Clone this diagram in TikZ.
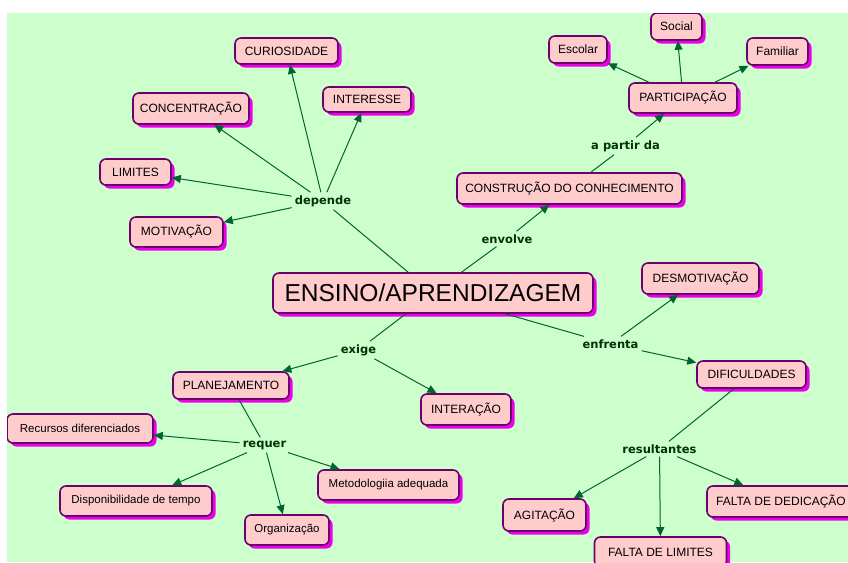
\documentclass[tikz,border=0pt]{standalone}
\usepackage{fontspec}
\setmainfont{Liberation Sans}
\newfontfamily\lblfont{DejaVu Sans}
\usetikzlibrary{arrows.meta,shadows}
\definecolor{bggreen}{RGB}{204,255,204}
\definecolor{boxfill}{RGB}{255,204,204}
\definecolor{boxline}{RGB}{110,0,110}
\definecolor{shadowmag}{RGB}{235,0,235}
\definecolor{linkgreen}{RGB}{0,100,50}
\definecolor{lbltext}{RGB}{0,50,10}
\tikzset{
  concept/.style={draw=boxline, line width=1.6pt, fill=boxfill, rounded corners=6pt,
    inner sep=0pt, align=center, font=\fontsize{12}{14}\selectfont,
    drop shadow={shadow xshift=3.5pt, shadow yshift=-3.5pt, fill=shadowmag, opacity=1}},
  linklbl/.style={inner sep=3pt, text=lbltext, font=\lblfont\bfseries\fontsize{11.5}{13}\selectfont},
  conn/.style={draw=linkgreen, line width=1pt},
  arr/.style={conn, -{Triangle[length=9pt,width=8pt]}}
}
\begin{document}
\begin{tikzpicture}[x=1pt,y=-1pt]
\useasboundingbox (0,0) rectangle (848,562);
\fill[white] (0,0) rectangle (848,562);
\fill[bggreen] (7,13) rectangle (848,562);
\clip (7,13) rectangle (848,562);

% concepts
\node[concept, minimum width=320pt, minimum height=40pt, font=\fontsize{24.5}{28}\selectfont] (main) at (433,293) {ENSINO/APRENDIZAGEM};

\node[concept, minimum width=103pt, minimum height=26pt] (curio) at (286.5,51) {CURIOSIDADE};
\node[concept, minimum width=116pt, minimum height=31pt] (conc) at (191,108.5) {CONCENTRAÇÃO};
\node[concept, minimum width=88pt, minimum height=25pt] (inter) at (367,99.5) {INTERESSE};
\node[concept, minimum width=71pt, minimum height=26pt] (limites) at (135.5,172) {LIMITES};
\node[concept, minimum width=93pt, minimum height=30pt] (motiv) at (176.5,232) {MOTIVAÇÃO};

\node[concept, minimum width=225pt, minimum height=31pt] (constr) at (569.5,188.5) {CONSTRUÇÃO DO CONHECIMENTO};
\node[concept, minimum width=108pt, minimum height=30pt] (partic) at (683,98) {PARTICIPAÇÃO};
\node[concept, minimum width=58pt, minimum height=27pt] (escolar) at (578,49.5) {Escolar};
\node[concept, minimum width=51pt, minimum height=27pt] (social) at (676.5,26.5) {Social};
\node[concept, minimum width=61pt, minimum height=27pt] (familiar) at (777.5,51.5) {Familiar};

\node[concept, minimum width=117pt, minimum height=31pt] (desmot) at (700.5,278.5) {DESMOTIVAÇÃO};
\node[concept, minimum width=109pt, minimum height=27pt] (dific) at (751.5,374.5) {DIFICULDADES};
\node[concept, minimum width=83pt, minimum height=32pt] (agit) at (544.5,515) {AGITAÇÃO};
\node[concept, minimum width=132pt, minimum height=30pt] (faltalim) at (660.5,552) {FALTA DE LIMITES};
\node[concept, minimum width=148pt, minimum height=31pt] (faltaded) at (781,501.5) {FALTA DE DEDICAÇÃO};

\node[concept, minimum width=116pt, minimum height=27pt] (planej) at (231,385.5) {PLANEJAMENTO};
\node[concept, minimum width=90pt, minimum height=31pt] (interac) at (466,409.5) {INTERAÇÃO};
\node[concept, minimum width=146pt, minimum height=29pt, font=\fontsize{11.5}{14}\selectfont] (recursos) at (80,428.5) {Recursos diferenciados};
\node[concept, minimum width=152pt, minimum height=30pt, font=\fontsize{11.5}{14}\selectfont] (dispon) at (136,501) {Disponibilidade de tempo};
\node[concept, minimum width=84pt, minimum height=30pt, font=\fontsize{11.5}{14}\selectfont] (organiz) at (287,530) {Organização};
\node[concept, minimum width=141pt, minimum height=30pt, font=\fontsize{11.5}{14}\selectfont] (metod) at (388.5,485) {Metodologiia adequada};

% linking phrases
\node[linklbl] (depende) at (323,201) {depende};
\node[linklbl] (envolve) at (507,239) {envolve};
\node[linklbl] (apartir) at (625.5,146) {a partir da};
\node[linklbl] (enfrenta) at (610.5,344) {enfrenta};
\node[linklbl] (result) at (659.5,449) {resultantes};
\node[linklbl] (exige) at (358.5,350) {exige};
\node[linklbl] (requer) at (264.5,445) {requer};

% connectors
\draw[conn] (main) -- (depende);
\draw[arr] (depende) -- (curio);
\draw[arr] (depende) -- (conc);
\draw[arr] (depende) -- (inter);
\draw[arr] (depende) -- (limites);
\draw[arr] (depende) -- (motiv);

\draw[conn] (main) -- (envolve);
\draw[arr] (envolve) -- (constr);
\draw[conn] (constr) -- (apartir);
\draw[arr] (apartir) -- (partic);
\draw[arr] (partic) -- (escolar);
\draw[arr] (partic) -- (social);
\draw[arr] (partic) -- (familiar);

\draw[conn] (main) -- (enfrenta);
\draw[arr] (enfrenta) -- (desmot);
\draw[arr] (enfrenta) -- (dific);
\draw[conn] (dific) -- (result);
\draw[arr] (result) -- (agit);
\draw[arr] (result) -- (faltalim);
\draw[arr] (result) -- (faltaded);

\draw[conn] (main) -- (exige);
\draw[arr] (exige) -- (planej);
\draw[arr] (exige) -- (interac);
\draw[conn] (planej) -- (requer);
\draw[arr] (requer) -- (recursos);
\draw[arr] (requer) -- (dispon);
\draw[arr] (requer) -- (organiz);
\draw[arr] (requer) -- (metod);
\end{tikzpicture}
\end{document}
